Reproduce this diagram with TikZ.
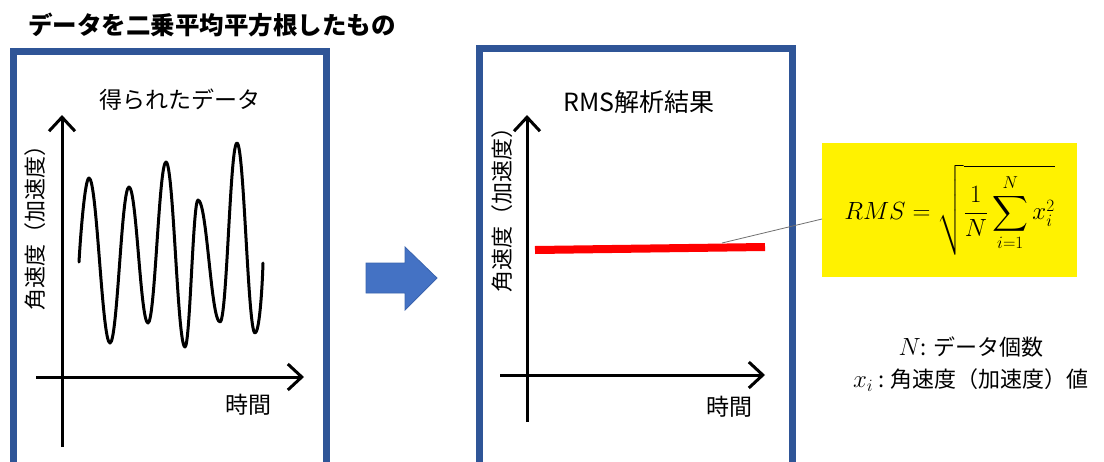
\documentclass[tikz,border=0pt]{standalone}
\usepackage{amsmath}
\usepackage{fontspec}
\setmainfont{Noto Sans CJK JP}
\usetikzlibrary{arrows.meta}
\definecolor{boxblue}{HTML}{2F5597}
\definecolor{arrowblue}{HTML}{4472C4}
\definecolor{arrowedge}{HTML}{3A64AE}
\definecolor{leadgray}{HTML}{707070}
\newcommand{\bigmath}[1]{{\fontsize{27}{32}\selectfont$#1$}}
\begin{document}
\begin{tikzpicture}[x=1pt,y=-1pt,
  frame/.style={draw=boxblue, line width=7pt},
  axis/.style={line width=3pt, -{Straight Barb[length=14pt,width=26pt,line join=miter]}},
  lbl/.style={font=\fontsize{23}{27}\selectfont, inner sep=0pt},
  wave/.style={line width=3pt, line join=round, line cap=round},
]
\useasboundingbox (0,0) rectangle (1104,461);
\fill[white] (0,0) rectangle (1104,461);

% title
\node[font=\fontsize{24.5}{29}\selectfont\bfseries, anchor=west, inner sep=0pt] (title) at (28,25) {データを二乗平均平方根したもの};

% left panel
\draw[frame] (13,51.5) rectangle (326.5,480);
\node[lbl] (ltitle) at (180,100) {得られたデータ};
\coordinate (lyo) at (62,447); \coordinate (lyt) at (62,115);
\coordinate (lxo) at (36,377); \coordinate (lxt) at (304,377);
\draw[axis] (lyo) -- (lyt);
\draw[axis] (lxo) -- (lxt);
\node[lbl] (ltime) at (248,405) {時間};
\node[lbl, font=\fontsize{22}{26}\selectfont, rotate=90] (lylabel) at (35,222) {角速度（加速度）};
\draw[wave] (79,262) .. controls (80.5,235) and (85,178) .. (89,178)
  .. controls (97,178) and (102,343) .. (110,343)
  .. controls (117.5,343) and (121.5,187) .. (129,187)
  .. controls (136.5,187) and (140.5,323) .. (148,323)
  .. controls (155,323) and (159,162) .. (166,162)
  .. controls (173.5,162) and (177.5,347) .. (185,347)
  .. controls (190,347) and (193,200) .. (198,200)
  .. controls (207,200) and (211,322) .. (220,322)
  .. controls (227,322) and (230,143) .. (237,143)
  .. controls (244,143) and (248,333) .. (255,333)
  .. controls (259,333) and (262,295) .. (263,263);

% arrow between panels
\filldraw[fill=arrowblue, draw=arrowedge, line width=0.8pt, line join=miter]
  (366,263) -- (405,263) -- (405,247) -- (437,278) -- (405,310) -- (405,293) -- (366,293) -- cycle;

% right panel
\draw[frame] (479,48.5) rectangle (792,480);
\node[lbl, font=\fontsize{25}{29}\selectfont] (rtitle) at (639,102) {RMS解析結果};
\coordinate (ryo) at (527,422); \coordinate (ryt) at (527,115);
\coordinate (rxo) at (500,375); \coordinate (rxt) at (765,375);
\draw[axis] (ryo) -- (ryt);
\draw[axis] (rxo) -- (rxt);
\node[lbl] (rtime) at (729,407) {時間};
\node[lbl, font=\fontsize{22}{26}\selectfont, rotate=90] (rylabel) at (502,204) {角速度（加速度）};
\coordinate (ra) at (535,250); \coordinate (rb) at (765,247);
\draw[red, line width=8pt] (ra) -- (rb);

% formula box
\node[fill=yellow, minimum width=255pt, minimum height=134pt, inner sep=0pt,
  font=\fontsize{25}{30}\selectfont] (fbox) at (949.5,210)
  {$\displaystyle RMS=\sqrt{\frac{1}{N}\sum_{i=1}^{N}x_i^2}$};
\coordinate (lnA) at (722,243); \coordinate (lnB) at (822,219);
\draw[leadgray, line width=0.8pt] (lnA) -- (lnB);

% legend
\node[font=\fontsize{22}{32}\selectfont, align=center, inner sep=0pt] (legend) at (971,364)
  {\bigmath{N}: データ個数\\\bigmath{x_i} : 角速度（加速度）値};
\end{tikzpicture}
\end{document}
